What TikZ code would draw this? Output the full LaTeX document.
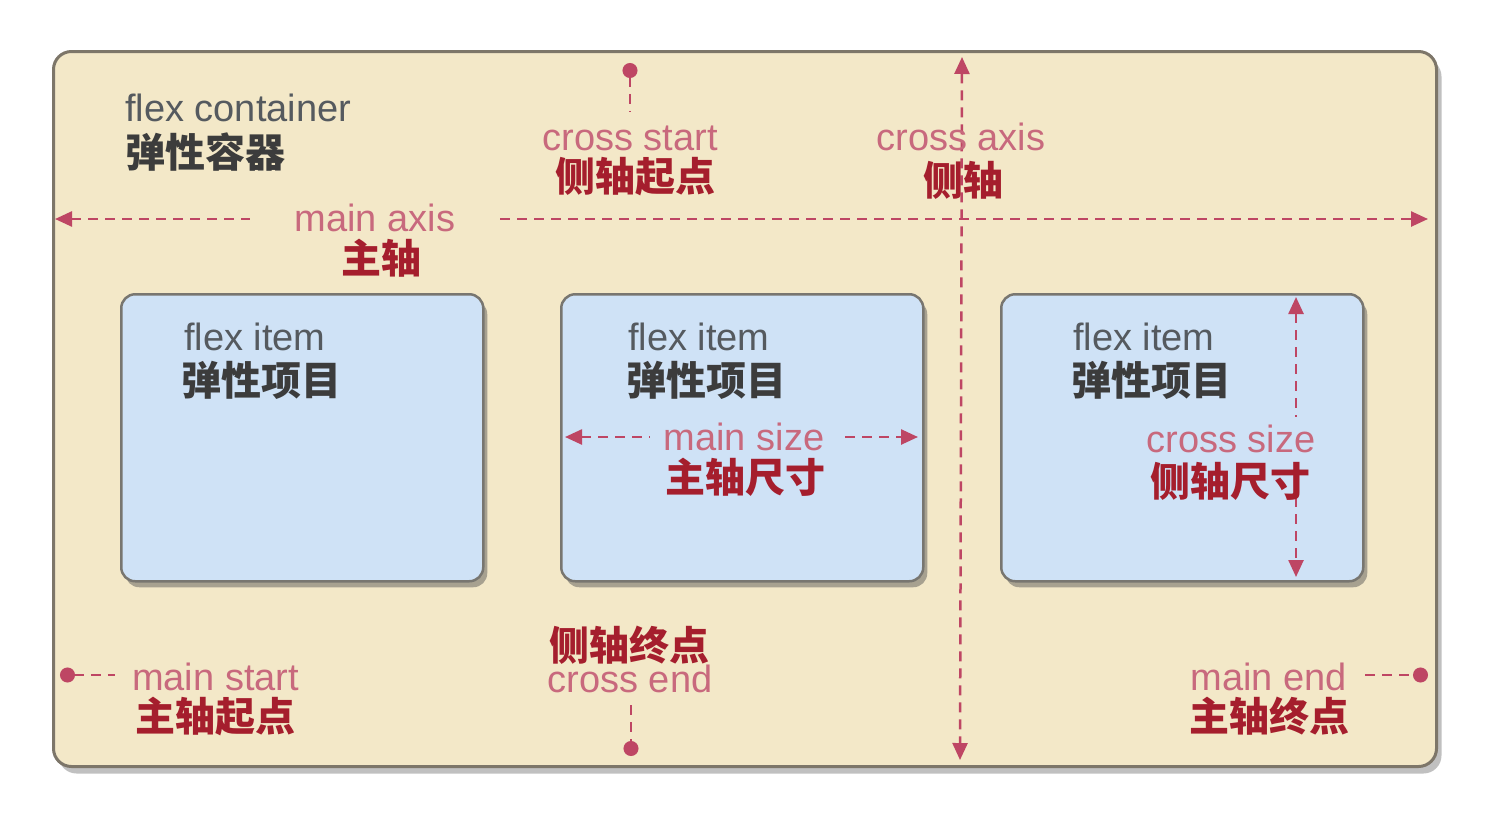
\documentclass[tikz,border=0pt]{standalone}
\usepackage{fontspec}
\setmainfont{Liberation Sans}
\newfontfamily\cjk{Noto Sans CJK SC}
\usetikzlibrary{arrows.meta,shadows}
\definecolor{beige}{RGB}{243,232,200}
\definecolor{cborder}{RGB}{125,118,105}
\definecolor{itemblue}{RGB}{207,226,246}
\definecolor{iborder}{RGB}{120,118,112}
\definecolor{axisred}{RGB}{190,70,100}
\definecolor{enred}{RGB}{200,105,125}
\definecolor{zhred}{RGB}{165,30,45}
\definecolor{engray}{RGB}{85,90,95}
\definecolor{zhgray}{RGB}{60,60,60}
\tikzset{
  container/.style={draw=cborder, line width=3pt, fill=beige, rounded corners=18pt,
    minimum width=1383pt, minimum height=715pt, anchor=north west, inner sep=0pt,
    drop shadow={shadow xshift=5pt, shadow yshift=-7pt, opacity=0.35, fill=black!70}},
  itembox/.style={draw=iborder, line width=2.5pt, fill=itemblue, rounded corners=14pt,
    minimum width=362pt, minimum height=287pt, anchor=north west, inner sep=0pt,
    drop shadow={shadow xshift=4pt, shadow yshift=-6pt, opacity=0.45, fill=black!70}},
  entext/.style={font=\fontsize{38}{42}\selectfont, inner sep=0pt, anchor=base,
    text height=26pt, text depth=0pt},
  zhtext/.style={font=\cjk\bfseries\fontsize{40}{44}\selectfont, inner sep=0pt, anchor=base,
    text height=32pt, text depth=2pt},
  enlabel/.style={entext, text=enred},
  zhlabel/.style={zhtext, text=zhred},
  axisline/.style={draw=axisred, line width=2.5pt, dash pattern=on 10pt off 7pt},
  tri/.tip={Triangle[length=17pt,width=15pt]},
  dot/.tip={Circle[length=15pt]}
}
\begin{document}
\begin{tikzpicture}[x=1pt,y=-1pt]
\useasboundingbox[fill=white] (0,0) rectangle (1498,814);
% container
\node[container] (cont) at (52,50) {};
% items
\node[itembox] (item1) at (120,293) {};
\node[itembox] (item2) at (560,293) {};
\node[itembox] (item3) at (1000,293) {};

% container title
\node[entext, anchor=base west, text=engray] (conten) at (125,121) {flex container};
\node[zhtext, anchor=base west, text=zhgray] (contzh) at (125,167) {弹性容器};

% item titles
\node[entext, anchor=base west, text=engray] (i1en) at (184,350) {flex item};
\node[zhtext, anchor=base west, text=zhgray] (i1zh) at (181,395) {弹性项目};
\node[entext, anchor=base west, text=engray] (i2en) at (628,350) {flex item};
\node[zhtext, anchor=base west, text=zhgray] (i2zh) at (626,395) {弹性项目};
\node[entext, anchor=base west, text=engray] (i3en) at (1073,350) {flex item};
\node[zhtext, anchor=base west, text=zhgray] (i3zh) at (1071,395) {弹性项目};

% cross axis (vertical, through everything)
\coordinate (caT) at (962,57);
\coordinate (caB) at (960,760);
\draw[axisline, tri-tri] (caT) -- (caB);

% main axis
\coordinate (maL) at (55,219);
\coordinate (maL2) at (250,219);
\coordinate (maR1) at (500,219);
\coordinate (maR) at (1428,219);
\draw[axisline, tri-] (maL) -- (maL2);
\draw[axisline, -tri] (maR1) -- (maR);
\node[enlabel] (maen) at (375,231) {main axis};
\node[zhlabel] (mazh) at (381,273) {主轴};

% cross start
\coordinate (csD) at (630,63);
\coordinate (csE) at (630,112);
\draw[axisline, dot-] (csD) -- (csE);
\node[enlabel] (csen) at (630,150) {cross start};
\node[zhlabel] (cszh) at (635,191) {侧轴起点};

% cross axis label
\node[enlabel] (caen) at (961,150) {cross axis};
\node[zhlabel] (cazh) at (963,195) {侧轴};

% main size
\coordinate (msL) at (565,437);
\coordinate (msL2) at (650,437);
\coordinate (msR1) at (845,437);
\coordinate (msR) at (918,437);
\draw[axisline, tri-] (msL) -- (msL2);
\draw[axisline, -tri] (msR1) -- (msR);
\node[enlabel] (msen) at (744,450) {main size};
\node[zhlabel] (mszh) at (745,492) {主轴尺寸};

% cross size
\coordinate (xsT) at (1296,297);
\coordinate (xsT2) at (1296,417);
\coordinate (xsB1) at (1296,497);
\coordinate (xsB) at (1296,577);
\draw[axisline, tri-] (xsT) -- (xsT2);
\draw[axisline, -tri] (xsB1) -- (xsB);
\node[enlabel] (xsen) at (1231,452) {cross size};
\node[zhlabel] (xszh) at (1230,496) {侧轴尺寸};

% cross end
\node[zhlabel] (cezh) at (629,660) {侧轴终点};
\node[enlabel] (ceen) at (630,692) {cross end};
\coordinate (ceS) at (631,705);
\coordinate (ceD) at (631,756);
\draw[axisline, -dot] (ceS) -- (ceD);

% main start
\coordinate (mstD) at (60,675);
\coordinate (mstE) at (115,675);
\draw[axisline, dot-] (mstD) -- (mstE);
\node[enlabel, anchor=base west] (msten) at (132,690) {main start};
\node[zhlabel, anchor=base west] (mstzh) at (135,731) {主轴起点};

% main end
\coordinate (meS) at (1365,675);
\coordinate (meD) at (1428,675);
\draw[axisline, -dot] (meS) -- (meD);
\node[enlabel, anchor=base east] (meen) at (1347,690) {main end};
\node[zhlabel, anchor=base east] (mezh) at (1350,731) {主轴终点};
\end{tikzpicture}
\end{document}
